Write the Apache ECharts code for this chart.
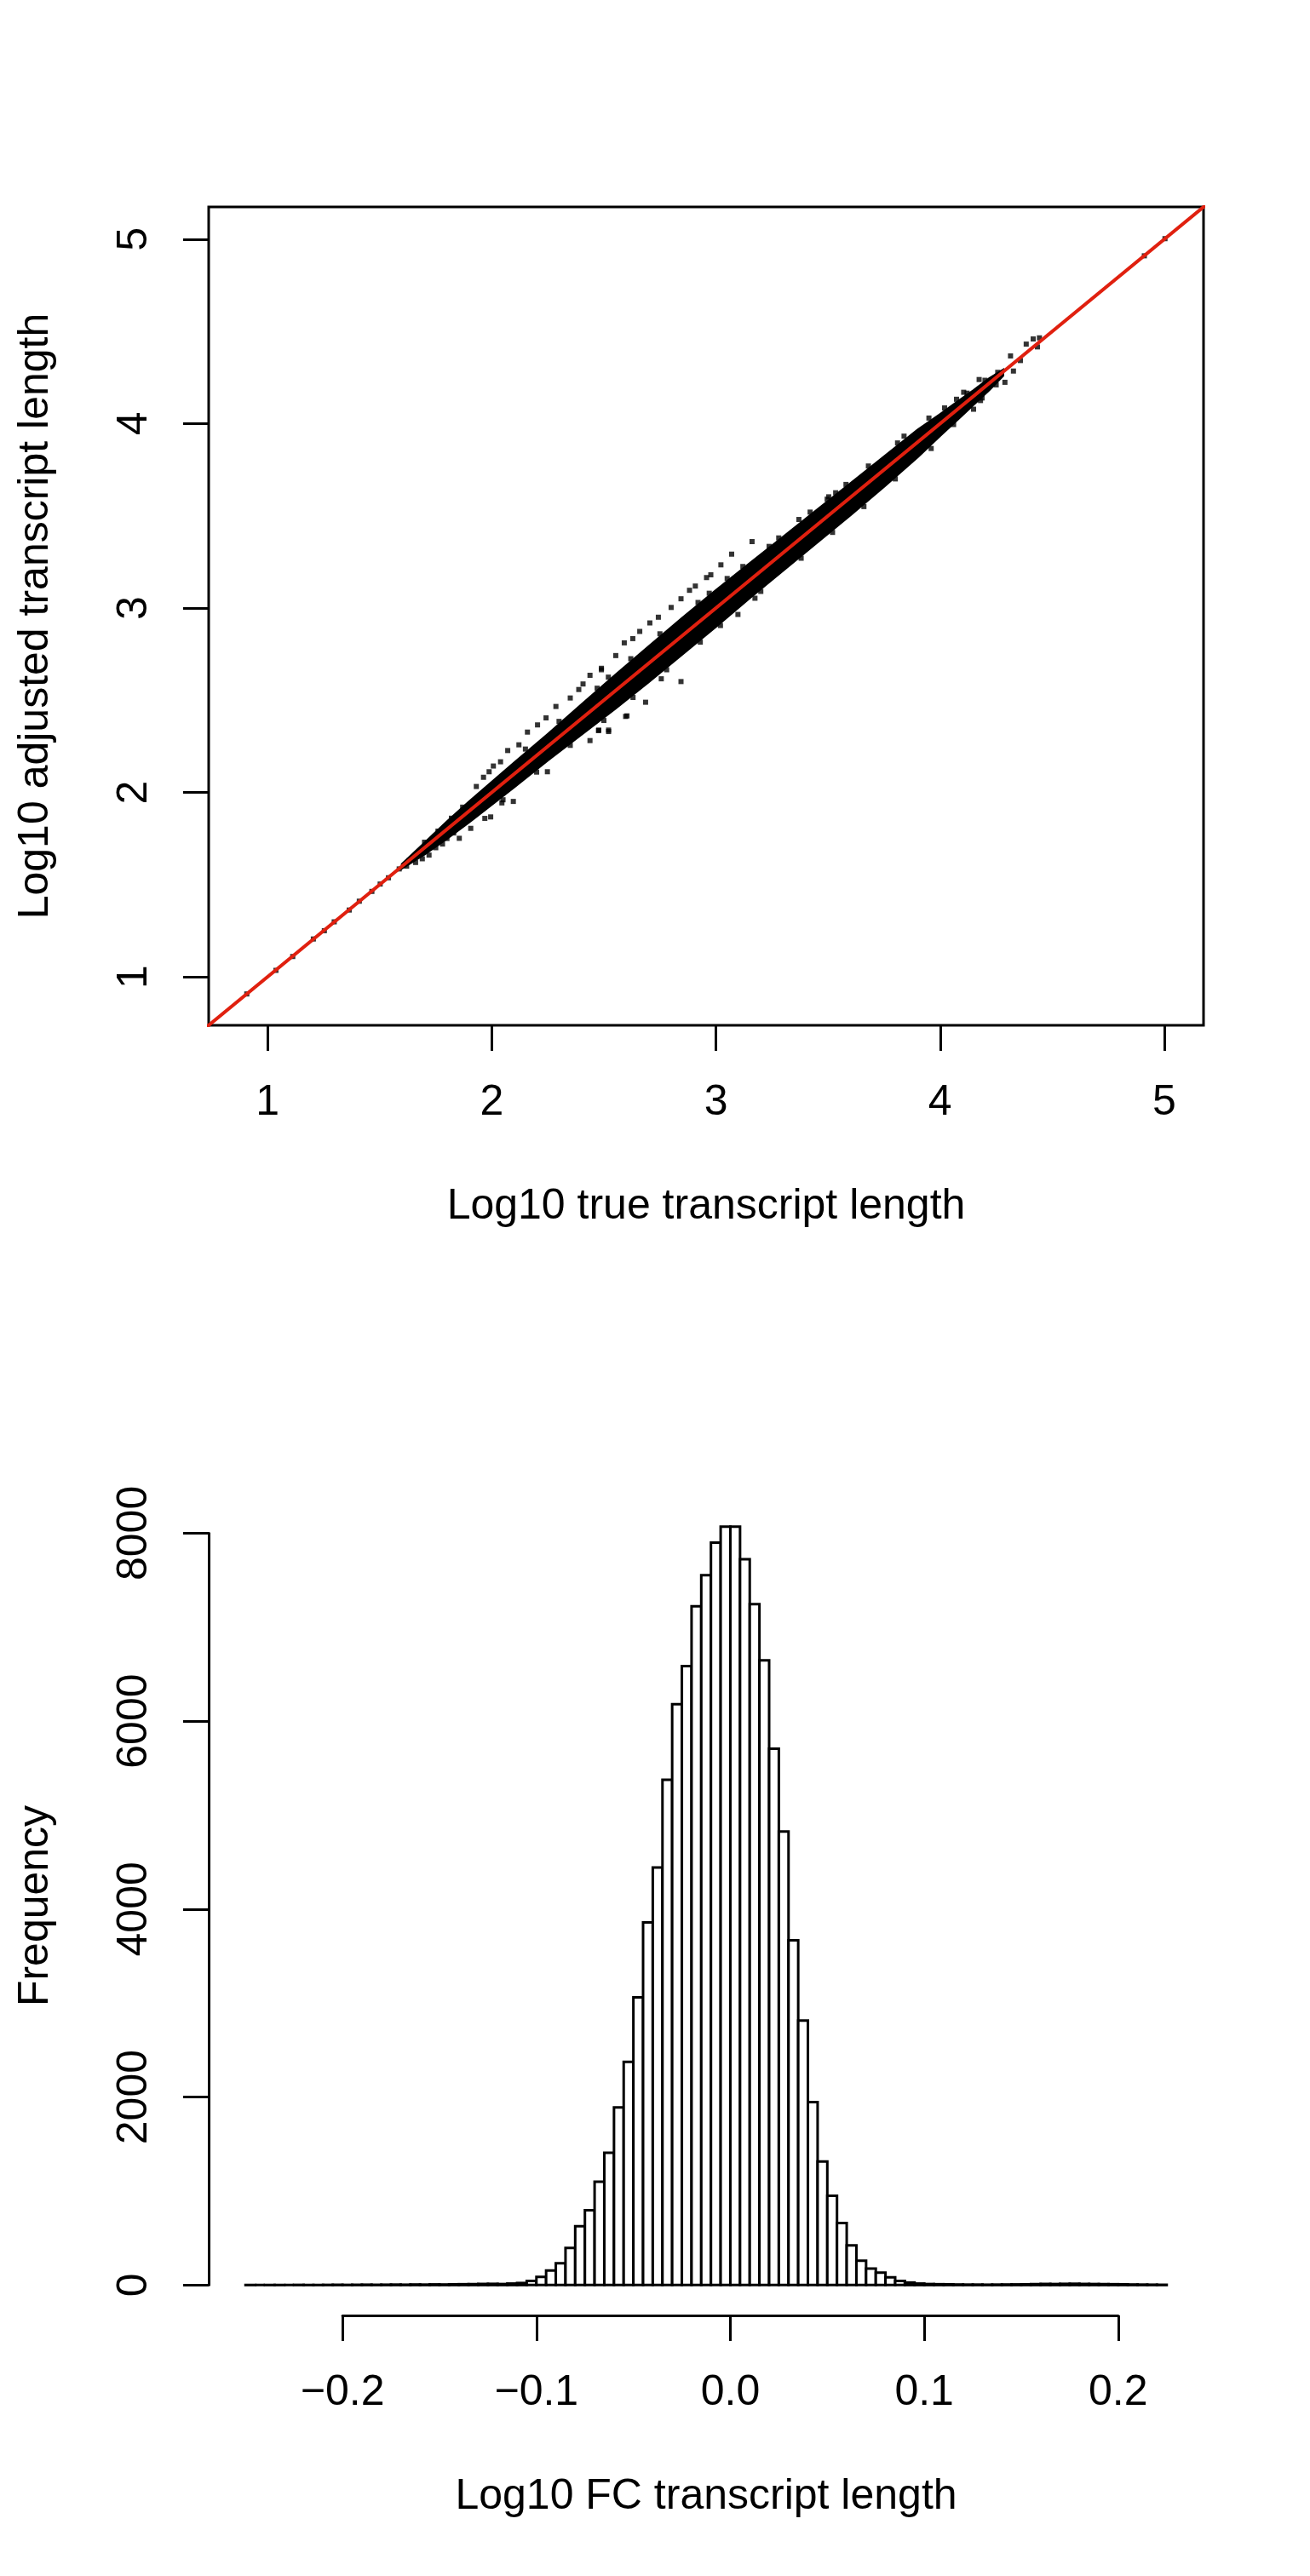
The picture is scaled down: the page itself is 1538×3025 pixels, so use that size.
<!DOCTYPE html>
<html>
<head>
    <meta charset="utf-8">
    <script src="https://cdn.jsdelivr.net/npm/echarts/dist/echarts.min.js"></script>
    <style>
        html, body { margin: 0; padding: 0; background: #fff; }
    </style>
</head>
<body>
    <div id="main" style="width:1538px; height:3025px;"></div>
</body>
	<script type="text/javascript">
        // ---- top panel: log10 true vs adjusted transcript length ----
        var scatterTicks = [1, 2, 3, 4, 5];
        var scatterTickLabels = ['1', '2', '3', '4', '5'];
        // dense core of the point cloud: x, upper y, lower y
        var bandX  = [1.60, 1.70, 1.80, 1.90, 2.00, 2.10, 2.25, 2.40, 2.55, 2.70, 2.85, 3.00, 3.15, 3.30, 3.45, 3.60, 3.75, 3.90, 4.00, 4.08, 4.15, 4.22, 4.28];
        var bandHi = [1.61, 1.725, 1.84, 1.95, 2.055, 2.16, 2.315, 2.475, 2.635, 2.79, 2.945, 3.095, 3.24, 3.385, 3.53, 3.675, 3.82, 3.965, 4.05, 4.12, 4.18, 4.245, 4.29];
        var bandLo = [1.59, 1.665, 1.75, 1.84, 1.935, 2.03, 2.175, 2.315, 2.455, 2.60, 2.75, 2.90, 3.055, 3.205, 3.355, 3.505, 3.66, 3.82, 3.935, 4.025, 4.105, 4.185, 4.26];
        // points lying outside the dense core
        var outlierPoints = [
            [1.931,2.032],[1.963,2.082],[1.988,2.112],[2.007,2.143],[2.039,2.166],[2.071,2.227],[2.121,2.258],
            [2.159,2.327],[2.204,2.366],[2.242,2.404],[2.286,2.466],[2.35,2.512],[2.388,2.558],[2.407,2.588],
            [2.438,2.635],[2.489,2.673],
            [2.096,1.951],[2.045,1.943],[1.995,1.867],[1.969,1.859],[1.855,1.751],[1.906,1.805],[2.248,2.112],
            [2.476,2.335],[2.521,2.33],[2.597,2.412],[2.438,2.281],
            [2.489,2.665],[2.553,2.742],[2.591,2.811],[2.629,2.834],[2.66,2.873],[2.705,2.919],[2.743,2.95],
            [2.8,3.003],[2.844,3.05],[2.882,3.096],[2.908,3.119],[2.958,3.165],[2.977,3.18],[3.022,3.234],
            [3.07,3.292],[3.161,3.36],[3.237,3.334],[3.37,3.48],[3.503,3.603],
            [2.686,2.489],[2.603,2.415],[2.844,2.601],[2.756,2.616],[3.098,2.965],[3.174,3.053],[2.521,2.338],[2.477,2.338],
            [3.496,3.59],[3.534,3.625],[3.839,3.932],[4.073,4.132],[4.105,4.17],[4.174,4.239],[4.257,4.278],
            [4.314,4.367],[4.384,4.431],[4.415,4.459],[4.443,4.465],
            [4.358,4.342],[4.327,4.285],[4.289,4.224],[4.187,4.139],[4.434,4.416],[4.149,4.078],
            [1.62,1.60],[1.66,1.62],[1.69,1.64],[1.72,1.66],[1.75,1.70],[1.78,1.72],[1.80,1.75],[1.83,1.78],
            [1.70,1.73],[1.76,1.79],[1.82,1.86],[1.87,1.92]
        ];
        // points just past the edges of the dense core
        var edgePoints = [
            [2.15,2.235],[2.30,2.385],[2.47,2.565],[2.52,2.625],[2.62,2.725],[2.75,2.86],[2.92,3.03],[2.97,3.08],
            [3.05,3.16],[3.12,3.225],[3.28,3.38],[3.42,3.52],[3.58,3.67],[3.68,3.77],[3.81,3.895],[3.95,4.03],
            [4.02,4.085],[4.12,4.165],[4.20,4.235],
            [2.05,1.96],[2.20,2.11],[2.35,2.255],[2.50,2.39],[2.63,2.515],[2.78,2.665],[2.93,2.815],[3.02,2.905],
            [3.20,3.09],[3.38,3.27],[3.52,3.41],[3.66,3.55],[3.80,3.70],[3.96,3.865],[4.06,3.995],[4.18,4.125],[4.25,4.21]
        ];
        // sparse points sitting on the diagonal at both ends
        var linePoints = [
            [0.907,0.907],[1.037,1.035],[1.112,1.11],[1.204,1.205],[1.253,1.25],[1.297,1.298],[1.364,1.362],
            [1.409,1.41],[1.465,1.463],[1.502,1.503],[1.539,1.537],[1.587,1.585],[1.632,1.63],
            [4.911,4.91],[5.003,5.003]
        ];
        var identityLine = [[0.5, 0.5], [5.5, 5.5]];

        // ---- bottom panel: histogram of log10 FC ----
        var binStart = -0.25;
        var binWidth = 0.005;
        var binCounts = [
            1, 0, 1, 1, 0, 2, 1, 1, 2, 3, 2, 3, 4, 3, 4, 5, 4, 6, 5, 7, 6, 8, 9, 10, 12, 13,
            11, 16, 22, 44, 88, 154, 231, 396, 627, 797, 1099, 1407, 1891, 2375, 3062, 3859, 4442, 5376, 6179, 6585,
            7223, 7553, 7899, 8070, 8070, 7723, 7245, 6646, 5706, 4826, 3667, 2814, 1946, 1314, 951, 660, 423,
            258, 176, 132, 82, 44, 27, 16, 11,
            9, 8, 6, 5, 5, 4, 5, 6, 7, 8, 10, 12, 11, 13, 14, 12, 11, 10, 9, 8, 6, 5, 4, 3
        ];
        var histXLabels = ['\u22120.2', '\u22120.1', '0.0', '0.1', '0.2'];
        var histYLabels = ['0', '2000', '4000', '6000', '8000'];

        var FONT = 'Liberation Sans, Arial, Helvetica, sans-serif';
        var topGrid = {left: 245, top: 243, width: 1168, height: 961};
        var histGrid = {left: 245, top: 1757, width: 1168, height: 962};
        var topRange = [0.737, 5.175];
        var histXRange = [-0.269, 0.244];
        var histYRange = [-323, 8393];

        function xPix(g, r, v) { return g.left + (v - r[0]) / (r[1] - r[0]) * g.width; }
        function yPix(g, r, v) { return g.top + g.height - (v - r[0]) / (r[1] - r[0]) * g.height; }

        var tick = {show: true, inside: false, length: 30, lineStyle: {color: '#000', width: 3}};
        var lbl = {color: '#000', fontSize: 50, fontFamily: FONT, showMinLabel: true, showMaxLabel: true};
        var nameStyle = {color: '#000', fontSize: 50, fontFamily: FONT};
        var blankAxis = {gridIndex: 0, type: 'value', min: 0, max: 1, show: false};

        function hiddenMain(grid, r, name, gap) {
            return {
                gridIndex: grid, type: 'value', min: r[0], max: r[1],
                axisLine: {show: false}, axisTick: {show: false}, axisLabel: {show: false},
                splitLine: {show: false},
                name: name, nameLocation: 'middle', nameGap: gap, nameTextStyle: nameStyle
            };
        }

        var x1 = xPix(topGrid, topRange, 1), x5 = xPix(topGrid, topRange, 5);
        var y1 = yPix(topGrid, topRange, 1), y5 = yPix(topGrid, topRange, 5);
        var hxa = xPix(histGrid, histXRange, -0.2), hxb = xPix(histGrid, histXRange, 0.2);
        var hy0 = yPix(histGrid, histYRange, 0), hy8 = yPix(histGrid, histYRange, 8000);
        var topBottom = topGrid.top + topGrid.height;
        var histBottom = histGrid.top + histGrid.height;

        var myChart = echarts.init(document.getElementById('main'));
        var histData = binCounts.map(function (c, i) { return [binStart + i * binWidth, c]; });

        option = {
            animation: false,
            backgroundColor: '#fff',
            grid: [
                {left: topGrid.left, top: topGrid.top, width: topGrid.width, height: topGrid.height,
                    show: true, borderColor: '#000', borderWidth: 3, backgroundColor: 'transparent'},
                {left: x1, top: topBottom - 1, width: x5 - x1, height: 1},
                {left: topGrid.left, top: y5, width: 1, height: y1 - y5},
                {left: histGrid.left, top: histGrid.top, width: histGrid.width, height: histGrid.height},
                {left: hxa, top: histBottom - 1, width: hxb - hxa, height: 1},
                {left: histGrid.left, top: hy8, width: 1, height: hy0 - hy8}
            ],
            xAxis: [
                hiddenMain(0, topRange, 'Log10 true transcript length', 188),
                {gridIndex: 1, type: 'value', min: 1, max: 5, interval: 1, position: 'bottom',
                    axisLine: {show: false}, axisTick: tick, splitLine: {show: false},
                    axisLabel: Object.assign({margin: 66, formatter: function (v) { return scatterTickLabels[scatterTicks.indexOf(v)]; }}, lbl)},
                Object.assign({}, blankAxis, {gridIndex: 2}),
                hiddenMain(3, histXRange, 'Log10 FC transcript length', 188),
                {gridIndex: 4, type: 'value', min: -0.2, max: 0.2, interval: 0.1, position: 'bottom',
                    axisLine: {show: true, lineStyle: {color: '#000', width: 3}}, axisTick: tick, splitLine: {show: false},
                    axisLabel: Object.assign({margin: 66, formatter: function (v, i) { return histXLabels[i]; }}, lbl)},
                Object.assign({}, blankAxis, {gridIndex: 5})
            ],
            yAxis: [
                hiddenMain(0, topRange, 'Log10 adjusted transcript length', 178),
                Object.assign({}, blankAxis, {gridIndex: 1}),
                {gridIndex: 2, type: 'value', min: 1, max: 5, interval: 1, position: 'left',
                    axisLine: {show: false}, axisTick: tick, splitLine: {show: false},
                    axisLabel: Object.assign({margin: 62, rotate: 90, formatter: function (v) { return scatterTickLabels[scatterTicks.indexOf(v)]; }}, lbl)},
                hiddenMain(3, histYRange, 'Frequency', 178),
                Object.assign({}, blankAxis, {gridIndex: 4}),
                {gridIndex: 5, type: 'value', min: 0, max: 8000, interval: 2000, position: 'left',
                    axisLine: {show: true, lineStyle: {color: '#000', width: 3}}, axisTick: tick, splitLine: {show: false},
                    axisLabel: Object.assign({margin: 62, rotate: 90, formatter: function (v, i) { return histYLabels[i]; }}, lbl)}
            ],
            series: [
                {
                    type: 'custom', xAxisIndex: 0, yAxisIndex: 0, clip: true,
                    data: [[2, 2]],
                    renderItem: function (params, api) {
                        var pts = [];
                        for (var i = 0; i < bandX.length; i++) pts.push(api.coord([bandX[i], bandHi[i]]));
                        for (var j = bandX.length - 1; j >= 0; j--) pts.push(api.coord([bandX[j], bandLo[j]]));
                        return {type: 'polygon', shape: {points: pts}, style: {fill: '#000', stroke: '#000', lineWidth: 3}};
                    }
                },
                {
                    type: 'scatter', xAxisIndex: 0, yAxisIndex: 0, symbol: 'rect', symbolSize: 6,
                    itemStyle: {color: '#000'}, data: outlierPoints.concat(edgePoints, linePoints)
                },
                {
                    type: 'line', xAxisIndex: 0, yAxisIndex: 0, data: identityLine, showSymbol: false,
                    clip: true, lineStyle: {color: '#e0200f', width: 4}, z: 5
                },
                {
                    type: 'custom', xAxisIndex: 3, yAxisIndex: 3,
                    data: histData,
                    renderItem: function (params, api) {
                        var x0 = api.value(0);
                        var p0 = api.coord([x0, 0]);
                        var p1 = api.coord([x0 + binWidth, api.value(1)]);
                        return {
                            type: 'rect',
                            shape: {x: p0[0], y: p1[1], width: p1[0] - p0[0], height: p0[1] - p1[1]},
                            style: {fill: '#fff', stroke: '#000', lineWidth: 3}
                        };
                    }
                }
            ]
        };
        myChart.setOption(option);
    </script>
</html>
